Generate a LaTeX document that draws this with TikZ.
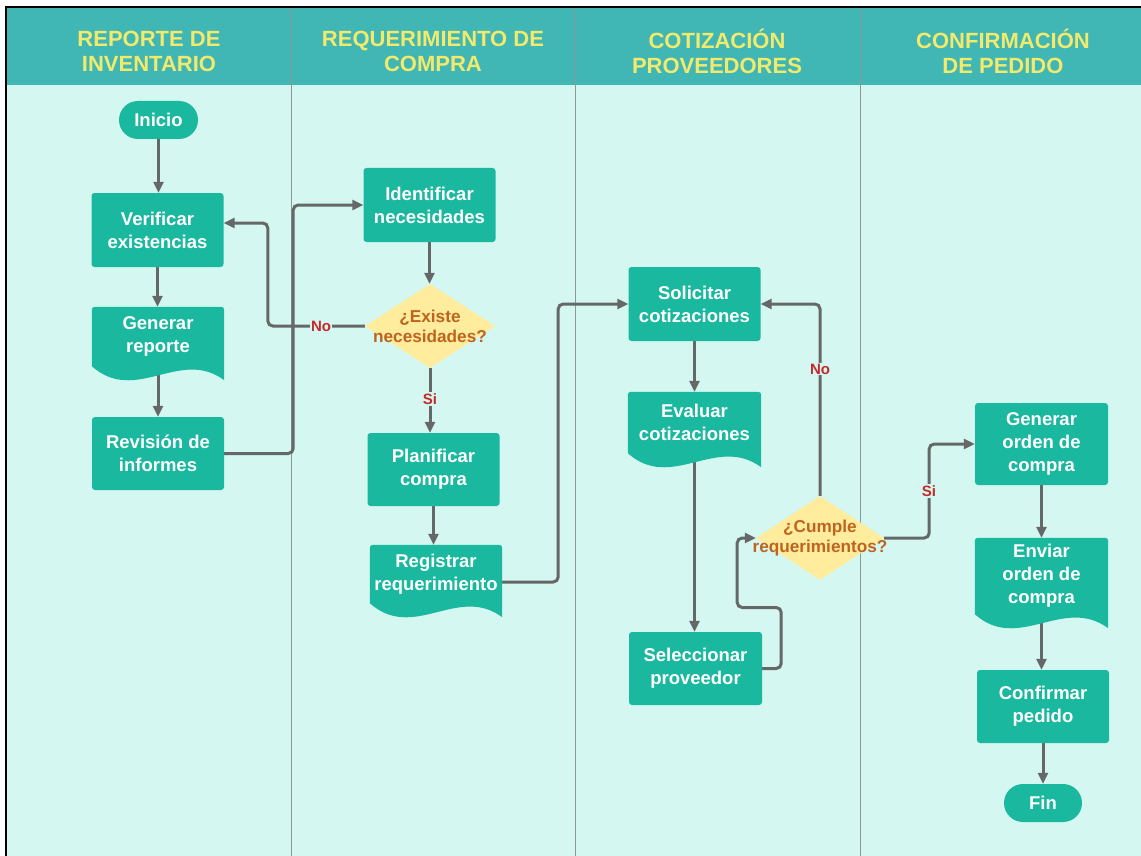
\documentclass[tikz,border=0pt]{standalone}
\usepackage{fontspec}
\setmainfont{Liberation Sans}
\usetikzlibrary{shapes.geometric,arrows.meta}
\definecolor{hdrc}{HTML}{40B6B5}
\definecolor{bodyc}{HTML}{D4F8F1}
\definecolor{nodec}{HTML}{19B89F}
\definecolor{hdrtxt}{HTML}{F2EA6C}
\definecolor{decc}{HTML}{FFEC9C}
\definecolor{dectxt}{HTML}{BE6420}
\definecolor{labc}{HTML}{C42A2A}
\definecolor{linec}{HTML}{666868}
\definecolor{lanec}{HTML}{8A9898}
\pgfdeclarelayer{lanes}
\pgfdeclarelayer{edges}
\pgfdeclarelayer{docs}
\pgfsetlayers{lanes,edges,docs,main}
\newcommand{\zl}[1]{\makebox[0pt]{#1}}
\tikzset{
  hdrtext/.style={text=hdrtxt, font=\fontsize{22}{25}\selectfont\bfseries, align=center, inner sep=0pt},
  proc/.style={rectangle, rounded corners=3pt, fill=nodec, text=white,
    font=\fontsize{18.5}{23}\selectfont\bfseries, align=center,
    minimum width=132pt, minimum height=74pt, inner sep=0pt},
  term/.style={rectangle, rounded corners=19pt, fill=nodec, text=white,
    font=\fontsize{18.5}{23}\selectfont\bfseries, align=center,
    minimum width=79pt, minimum height=38pt, inner sep=0pt},
  docnode/.style={rectangle, text=white, font=\fontsize{18.5}{23}\selectfont\bfseries,
    align=center, minimum width=132pt, inner sep=0pt},
  dec/.style={diamond, fill=decc, text=dectxt, font=\fontsize{17.2}{20}\selectfont\bfseries,
    align=center, minimum width=130pt, minimum height=84pt, inner sep=0pt},
  lab/.style={text=labc, font=\fontsize{15}{17}\selectfont\bfseries, fill=bodyc, inner sep=1pt},
  conn/.style={draw=linec, line width=3pt, rounded corners=5pt,
    -{Triangle[length=11pt,width=10pt]}},
  lane/.style={draw=lanec, line width=0.9pt}
}
\begin{document}
\begin{tikzpicture}[x=1pt,y=-1pt]
\useasboundingbox (0,0) rectangle (1141,856);
\begin{pgfonlayer}{lanes}
  \fill[white] (0,0) rectangle (1141,856);
  \fill[bodyc] (7,85) rectangle (1141,856);
  \fill[hdrc] (7,8) rectangle (1141,85);
  \draw[lane] (291,8) -- (291,856);
  \draw[lane] (575,8) -- (575,856);
  \draw[lane] (860,8) -- (860,856);
  \draw[black, line width=2pt] (6,856) -- (6,7) -- (1141,7);
\end{pgfonlayer}

% headers
\node[hdrtext] (h1) at (149,51) {REPORTE DE\\INVENTARIO};
\node[hdrtext] (h2) at (433,51) {REQUERIMIENTO DE\\COMPRA};
\node[hdrtext] (h3) at (717,51) {COTIZACIÓN\\PROVEEDORES};
\node[hdrtext] (h4) at (1003,51) {CONFIRMACIÓN\\DE PEDIDO};

% lane 1
\node[term] (ini) at (158.5,120) {Inicio};
\node[proc] (ver) at (157.5,230) {Verificar\\existencias};
\node[docnode, minimum height=59pt] (gen) at (158,336.5) {Generar\\reporte};
\node[proc, minimum height=73pt] (rev) at (158,453.5) {Revisión de\\informes};

% lane 2
\node[proc] (ide) at (429.5,205) {Identificar\\necesidades};
\node[dec] (exi) at (430,326) {\zl{¿Existe}\\\zl{necesidades?}};
\node[proc, minimum height=73pt] (pla) at (433.5,469.5) {Planificar\\compra};
\node[docnode, minimum height=58pt] (reg) at (436,574) {Registrar\\requerimiento};

% lane 3
\node[proc] (sol) at (694.5,304) {Solicitar\\cotizaciones};
\node[docnode, minimum height=61pt, minimum width=133pt] (eva) at (694.5,422.5) {Evaluar\\cotizaciones};
\node[proc, minimum height=73pt, minimum width=133pt] (sel) at (695.5,668.5) {Seleccionar\\proveedor};
\node[dec, minimum width=128pt] (cum) at (820,538) {\zl{¿Cumple}\\\zl{requerimientos?}};

% lane 4
\node[proc, minimum height=82pt, minimum width=133pt] (geno) at (1041.5,444) {Generar\\orden de\\compra};
\node[docnode, minimum height=76pt, minimum width=133pt] (env) at (1041.5,576) {Enviar\\orden de\\compra};
\node[proc, minimum height=73pt] (con) at (1043,706.5) {Confirmar\\pedido};
\node[term, minimum width=78pt] (fin) at (1043,803) {Fin};

% document shapes (wavy bottom)
\begin{pgfonlayer}{docs}
\foreach \n in {gen,reg,eva,env}{
  \fill[nodec, rounded corners=3pt] (\n.south west) -- (\n.north west) -- (\n.north east)
    [sharp corners] -- ([yshift=-14pt]\n.south east)
    .. controls ([xshift=88pt,yshift=19pt]\n.south west) and ([xshift=44pt,yshift=-39pt]\n.south west)
    .. (\n.south west) -- cycle;
}
\end{pgfonlayer}

% connectors
\begin{pgfonlayer}{edges}
\draw[conn] (ini.south) -- (ini.south |- ver.north);
\draw[conn] (ver.south) -- (ver.south |- gen.north);
\draw[conn] (gen.south) -- (gen.south |- rev.north);
\draw[conn] (rev.east) -- ([xshift=69pt]rev.east) |- (ide.west);
\draw[conn] (exi.west) -- ([xshift=-97pt]exi.west) |- ([yshift=7pt]ver.east);
\draw[conn] (ide.south) -- (ide.south |- exi.north);
\draw[conn] (exi.south) -- (exi.south |- pla.north);
\draw[conn] (pla.south) -- (pla.south |- reg.north);
\draw[conn] ([yshift=-8pt]reg.east) -- ([xshift=56pt,yshift=-8pt]reg.east) |- (sol.west);
\draw[conn] (sol.south) -- (sol.south |- eva.north);
\draw[conn] (eva.south) -- (eva.south |- sel.north);
\draw[conn] (sel.east) -- ++(19,0) -- ++(0,-61) -- ++(-44,0) |- (cum.west);
\draw[conn] (cum.north) |- (sol.east);
\draw[conn] (cum.east) -- ([xshift=45pt]cum.east) |- (geno.west);
\draw[conn] (geno.south) -- (geno.south |- env.north);
\draw[conn] (env.south) -- (env.south |- con.north);
\draw[conn] (con.south) -- (con.south |- fin.north);
\end{pgfonlayer}

% labels
\node[lab] (lno1) at (321,326) {No};
\node[lab] (lsi1) at (430,399) {Si};
\node[lab] (lno2) at (820,369) {No};
\node[lab] (lsi2) at (929,491) {Si};
\end{tikzpicture}
\end{document}
